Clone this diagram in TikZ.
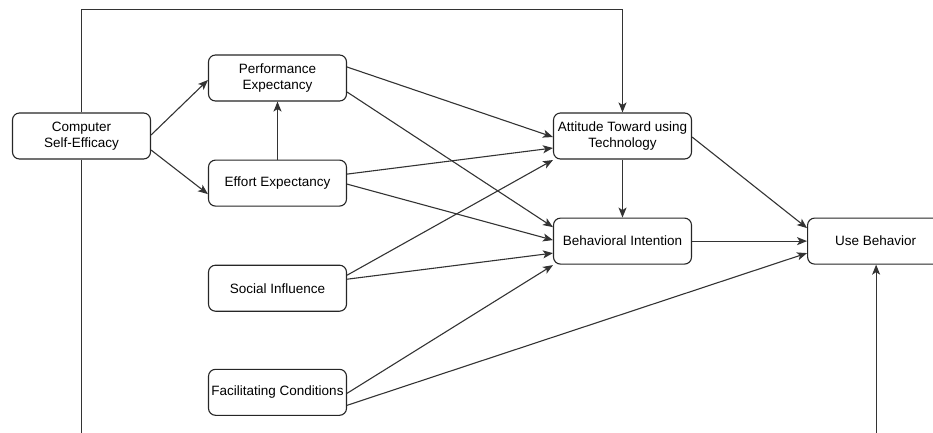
\documentclass[tikz,border=0pt]{standalone}
\usepackage{fontspec}
\setmainfont{Liberation Sans}
\usetikzlibrary{arrows.meta,positioning,calc}
\tikzset{
  tam box/.style={
    rectangle,
    rounded corners=7pt,
    minimum height=46pt,
    minimum width=138pt,
    line width=1.1pt,
    draw=black!85,
    fill=white,
    font=\fontsize{13.5}{16}\selectfont,
    align=center,
    inner sep=1pt,
  },
  tam arrow/.style={-{Stealth[length=10pt,width=8pt,inset=2.5pt]}, line width=1.1pt, draw=black!80},
  tam line/.style={line width=1.1pt, draw=black!80},
}

\begin{document}
\begin{tikzpicture}[x=1pt,y=-1pt]
  \useasboundingbox (0,0) rectangle (933,432);
  \clip (0,0) rectangle (933,432);

  \node[tam box] (cse) at (81.5,136) {Computer\\Self-Efficacy};
  \node[tam box] (pe) at (277.5,78) {Performance\\Expectancy};
  \node[tam box,below=58pt of pe] (ee) {Effort Expectancy};
  \node[tam box,below=58pt of ee] (si) {Social Influence};
  \node[tam box,below=57pt of si] (fc) {Facilitating Conditions};

  \node[tam box] (att) at (622.5,136) {Attitude Toward using\\Technology};
  \node[tam box,below=58pt of att] (bi) {Behavioral Intention};
  \node[tam box,right=115pt of bi,minimum width=136pt] (ub) {Use Behavior};

  \coordinate (high) at (0,9.5);
  \coordinate (low) at (0,450);

  \draw[tam arrow] ($(cse.east)+(0,-1)$) -- ($(pe.west)+(0,2)$);
  \draw[tam arrow] ($(cse.east)+(0,14)$) -- ($(ee.west)+(0,11)$);
  \draw[tam arrow] (ee.north) -- (pe.south);

  \draw[tam arrow] ($(pe.east)+(0,-11)$) -- ($(att.west)+(0,1)$);
  \draw[tam arrow] ($(pe.east)+(0,14)$) -- ($(bi.west)+(0,-14)$);
  \draw[tam arrow] ($(ee.east)+(0,-9)$) -- ($(att.west)+(0,12)$);
  \draw[tam arrow] ($(ee.east)+(0,1)$) -- ($(bi.west)+(0,-1)$);
  \draw[tam arrow] ($(si.east)+(0,-13)$) -- ($(att.west)+(0,24)$);
  \draw[tam arrow] ($(si.east)+(0,-9)$) -- ($(bi.west)+(0,12)$);
  \draw[tam arrow] ($(fc.east)+(0,1)$) -- ($(bi.west)+(0,24)$);
  \draw[tam arrow] ($(fc.east)+(0,13)$) -- ($(ub.west)+(0,12)$);

  \draw[tam arrow] (att.south) -- (bi.north);
  \draw[tam arrow] ($(att.east)+(0,1)$) -- ($(ub.west)+(0,-13)$);
  \draw[tam arrow] (bi.east) -- (ub.west);

  \draw[tam arrow] (cse.north) |- (att.north |- high) -- (att.north);
  \draw[tam arrow] (cse.south) -- (cse.south |- low) -| ($(ub.south)+(0.5,0)$);
\end{tikzpicture}
\end{document}
